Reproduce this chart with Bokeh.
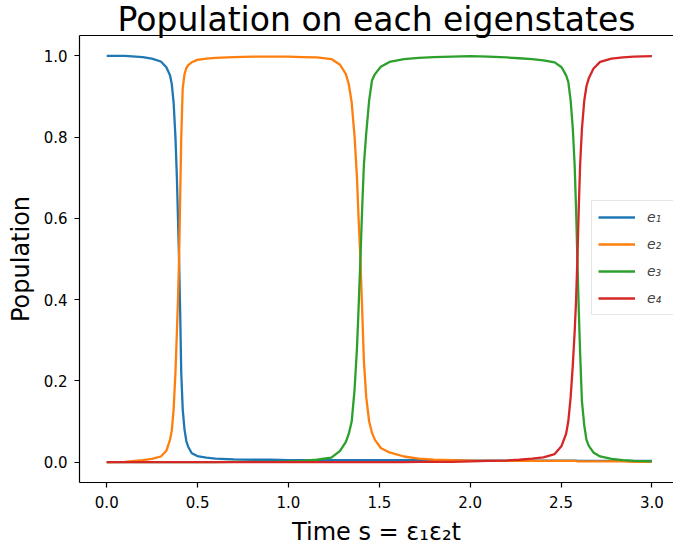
from bokeh.plotting import figure
from bokeh.models import Range1d, LinearAxis, FixedTicker, PrintfTickFormatter
from bokeh.embed import file_html
from bokeh.resources import INLINE

# ---- data ----
time_s = [0.0, 0.1,
          0.198, 0.248, 0.298, 0.328, 0.348, 0.358, 0.368, 0.378, 0.386, 0.392, 0.398,
          0.404, 0.41, 0.418, 0.428, 0.438, 0.448, 0.468, 0.498, 0.548, 0.598,
          0.7, 0.8, 0.9, 1.0,
          1.076, 1.156, 1.236, 1.284, 1.316, 1.332, 1.348, 1.364, 1.377, 1.386, 1.396,
          1.406, 1.415, 1.428, 1.444, 1.46, 1.476, 1.508, 1.556, 1.636, 1.716,
          1.8, 1.9, 2.0, 2.1, 2.2, 2.27,
          2.34, 2.403, 2.465, 2.503, 2.528, 2.54, 2.553, 2.565, 2.575, 2.583, 2.59,
          2.598, 2.605, 2.615, 2.628, 2.64, 2.653, 2.678, 2.715, 2.778, 2.84,
          2.9, 3.0]

pop_e1 = [1.0, 1.0,
          0.997, 0.993, 0.986, 0.972, 0.952, 0.93, 0.885, 0.80, 0.70, 0.60, 0.50,
          0.37, 0.22, 0.13, 0.08, 0.052, 0.038, 0.022, 0.015, 0.011, 0.009,
          0.007, 0.006, 0.006, 0.005,
          0.005, 0.005, 0.005, 0.005, 0.005, 0.005, 0.005, 0.005, 0.005, 0.005, 0.005,
          0.005, 0.005, 0.005, 0.005, 0.005, 0.005, 0.005, 0.005, 0.005, 0.005,
          0.005, 0.005, 0.004, 0.004, 0.004, 0.004,
          0.004, 0.004, 0.004, 0.004, 0.004, 0.004, 0.004, 0.004, 0.004, 0.004, 0.003,
          0.003, 0.003, 0.003, 0.003, 0.003, 0.003, 0.003, 0.003, 0.003, 0.003,
          0.003, 0.003]

pop_e2 = [0.0, 0.001,
          0.005, 0.008, 0.014, 0.028, 0.055, 0.078, 0.13, 0.22, 0.32, 0.40, 0.50,
          0.65, 0.80, 0.92, 0.955, 0.97, 0.977, 0.984, 0.99, 0.993, 0.995,
          0.997, 0.998, 0.998, 0.998,
          0.997, 0.996, 0.992, 0.978, 0.955, 0.93, 0.885, 0.80, 0.70, 0.60, 0.50,
          0.37, 0.25, 0.16, 0.10, 0.072, 0.055, 0.035, 0.024, 0.014, 0.009,
          0.006, 0.005, 0.004, 0.003, 0.003, 0.003,
          0.003, 0.003, 0.003, 0.003, 0.003, 0.003, 0.003, 0.003, 0.003, 0.003, 0.002,
          0.002, 0.002, 0.002, 0.002, 0.002, 0.002, 0.002, 0.002, 0.002, 0.002,
          0.001, 0.001]

pop_e3 = [0.0, 0.0,
          0.0, 0.0, 0.0, 0.0, 0.0, 0.0, 0.0, 0.0, 0.0, 0.0, 0.0,
          0.0, 0.0, 0.0, 0.0, 0.0, 0.0, 0.0, 0.0, 0.0, 0.0,
          0.001, 0.001, 0.001, 0.002,
          0.003, 0.006, 0.011, 0.028, 0.05, 0.07, 0.10, 0.18, 0.28, 0.38, 0.50,
          0.63, 0.73, 0.81, 0.89, 0.94, 0.955, 0.973, 0.985, 0.992, 0.995,
          0.997, 0.998, 0.999, 0.998, 0.996, 0.994,
          0.992, 0.989, 0.984, 0.972, 0.952, 0.936, 0.89, 0.82, 0.73, 0.62, 0.50,
          0.37, 0.27, 0.15, 0.09, 0.055, 0.04, 0.024, 0.014, 0.008, 0.005,
          0.003, 0.002]

pop_e4 = [0.0, 0.0,
          0.0, 0.0, 0.0, 0.0, 0.0, 0.0, 0.0, 0.0, 0.0, 0.0, 0.0,
          0.0, 0.0, 0.0, 0.0, 0.0, 0.0, 0.0, 0.0, 0.0, 0.0,
          0.0, 0.0, 0.0, 0.0,
          0.0, 0.0, 0.0, 0.0, 0.0, 0.0, 0.0, 0.0, 0.0, 0.0, 0.0,
          0.0, 0.0, 0.0, 0.0, 0.0, 0.0, 0.0, 0.0, 0.0, 0.001,
          0.001, 0.001, 0.002, 0.003, 0.004, 0.006,
          0.009, 0.012, 0.02, 0.04, 0.07, 0.10, 0.16, 0.24, 0.32, 0.40, 0.50,
          0.63, 0.73, 0.82, 0.89, 0.925, 0.945, 0.968, 0.985, 0.993, 0.996,
          0.998, 0.999]

series_labels = ["e₁", "e₂", "e₃", "e₄"]
series_colors = ["#1f77b4", "#ff7f0e", "#2ca02c", "#d62728"]
x_ticks = [0.0, 0.5, 1.0, 1.5, 2.0, 2.5, 3.0]
y_ticks = [0.0, 0.2, 0.4, 0.6, 0.8, 1.0]

FONT = "DejaVu Sans"

p = figure(
    frame_width=594, frame_height=447,
    min_border_left=79, min_border_right=0, min_border_top=35, min_border_bottom=66,
    x_range=Range1d(-0.15, 3.119), y_range=Range1d(-0.05, 1.05),
    output_backend="svg", toolbar_location=None,
    background_fill_color="white", border_fill_color="white",
    title="Population on each eigenstates",
)
p.outline_line_color = None
p.xgrid.visible = False
p.ygrid.visible = False

p.title.text_font = FONT
p.title.text_font_size = "33px"
p.title.text_font_style = "normal"
p.title.text_color = "black"
p.title.align = "center"
p.title.offset = 6
p.title.standoff = -7

for ys, lab, col in zip([pop_e1, pop_e2, pop_e3, pop_e4], series_labels, series_colors):
    p.line(time_s, ys, line_color=col, line_width=2.3, legend_label=lab)

# axes styling
for ax in (p.xaxis[0], p.yaxis[0]):
    ax.axis_line_color = "black"
    ax.axis_line_width = 1.2
    ax.major_tick_line_color = "black"
    ax.major_tick_line_width = 1.2
    ax.major_tick_in = 0
    ax.major_tick_out = 5
    ax.minor_tick_line_color = None
    ax.major_label_text_font = FONT
    ax.major_label_text_font_size = "15px"
    ax.major_label_text_color = "black"
    ax.axis_label_text_font = FONT
    ax.axis_label_text_font_size = "24px"
    ax.axis_label_text_font_style = "normal"
    ax.axis_label_text_color = "black"
    ax.formatter = PrintfTickFormatter(format="%.1f")

p.xaxis[0].ticker = FixedTicker(ticks=x_ticks)
p.yaxis[0].ticker = FixedTicker(ticks=y_ticks)
p.xaxis[0].axis_label = "Time s = ε₁ε₂t"
p.yaxis[0].axis_label = "Population"
p.xaxis[0].major_label_standoff = 8
p.xaxis[0].axis_label_standoff = 7
p.yaxis[0].major_label_standoff = 7
p.yaxis[0].axis_label_standoff = 6

# top spine
top_axis = LinearAxis(ticker=FixedTicker(ticks=[]), axis_line_color="black", axis_line_width=1.2,
                      major_tick_line_color=None, minor_tick_line_color=None,
                      major_tick_out=0, major_tick_in=0, major_label_standoff=0,
                      axis_label_standoff=0)
p.add_layout(top_axis, "above")

# legend
lg = p.legend[0]
lg.location = (512, 167)
lg.border_line_color = "#cccccc"
lg.border_line_width = 1
lg.background_fill_alpha = 0.8
lg.label_text_font = FONT
lg.label_text_font_size = "14px"
lg.label_text_font_style = "italic"
lg.glyph_width = 37
lg.glyph_height = 20
lg.label_height = 20
lg.label_width = 20
lg.label_standoff = 12
lg.spacing = 7
lg.padding = 6
lg.margin = 0

open("out.html", "w").write(file_html(p, INLINE))
